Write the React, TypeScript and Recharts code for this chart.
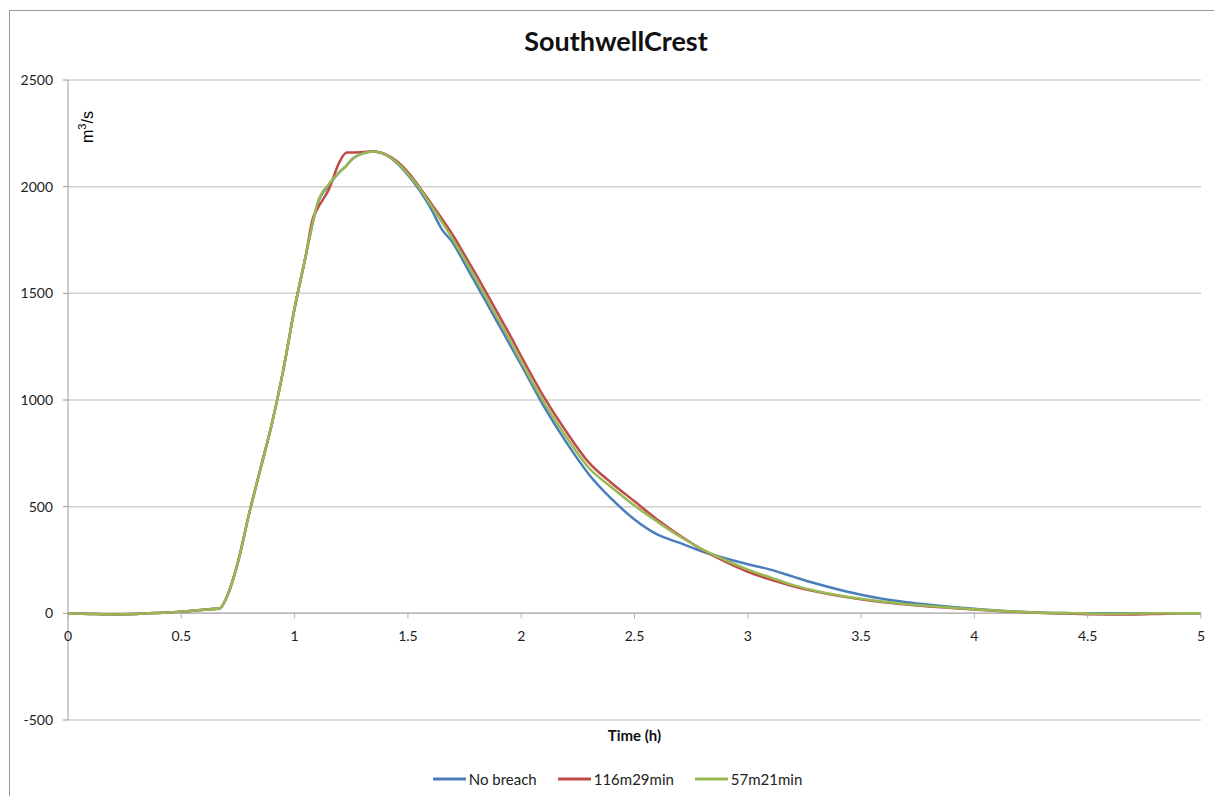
import { CartesianGrid, Legend, Line, LineChart, ReferenceLine, XAxis, YAxis } from "recharts";

const TIME = [
  0, 0.1, 0.2, 0.3, 0.4, 0.5, 0.6, 0.67, 0.7, 0.75, 0.8, 0.85, 0.9, 0.95, 1.0, 1.05, 1.08, 1.1, 1.15, 1.2,
  1.23, 1.25, 1.3, 1.35, 1.4, 1.45, 1.5, 1.55, 1.6, 1.65, 1.7, 1.75, 1.8, 1.85, 1.9, 1.95, 2.0, 2.1, 2.2,
  2.3, 2.4, 2.5, 2.6, 2.7, 2.8, 2.9, 3.0, 3.1, 3.2, 3.3, 3.4, 3.5, 3.6, 3.7, 3.8, 3.9, 4.0, 4.1, 4.2, 4.3,
  4.4, 4.5, 4.6, 4.7, 4.8, 4.9, 5.0,
];

const NO_BREACH = [
  0, -3, -5, -3, 2, 8, 17, 24, 75, 240, 470, 680, 890, 1140, 1430, 1680, 1830, 1915, 2005, 2070,
  2100, 2125, 2155, 2165, 2150, 2112, 2055, 1985, 1900, 1800, 1735, 1640, 1545, 1450, 1355, 1260, 1165, 970, 800,
  650, 535, 440, 370, 330, 290, 258, 230, 205, 172, 140, 112, 87, 67, 52, 40, 30, 21, 13, 7, 3,
  1, 0, 0, 0, 0, 0, 0,
];

const BREACH_116 = [
  0, -3, -5, -3, 2, 8, 17, 24, 75, 240, 470, 680, 890, 1140, 1430, 1680, 1850, 1895, 1985, 2120,
  2160, 2160, 2162, 2165, 2152, 2120, 2068, 2000, 1925, 1850, 1770, 1680, 1590, 1495, 1400, 1305, 1205, 1015, 850,
  705, 610, 525, 440, 365, 298, 242, 195, 158, 127, 102, 82, 66, 52, 41, 32, 25, 18, 11, 6, 2,
  -1, -4, -5, -5, -3, 0, 0,
];

const BREACH_57 = [
  0, -3, -5, -3, 2, 8, 17, 24, 75, 240, 470, 680, 890, 1140, 1430, 1680, 1830, 1920, 2010, 2070,
  2100, 2125, 2155, 2165, 2150, 2115, 2060, 1995, 1915, 1835, 1750, 1660, 1565, 1470, 1375, 1280, 1180, 990, 825,
  680, 590, 505, 430, 360, 300, 250, 205, 168, 132, 105, 85, 68, 54, 43, 34, 26, 19, 12, 7, 3,
  1, -1, -2, -1, 0, 0, 0,
];

const X_TICKS = [0, 0.5, 1, 1.5, 2, 2.5, 3, 3.5, 4, 4.5, 5];
const Y_TICKS = [-500, 0, 500, 1000, 1500, 2000, 2500];

const SERIES = [
  { key: "noBreach", name: "No breach", color: "#4a7ebb" },
  { key: "b116", name: "116m29min", color: "#be4b48" },
  { key: "b57", name: "57m21min", color: "#98b954" },
];

const data = TIME.map((t, i) => ({
  t,
  noBreach: NO_BREACH[i],
  b116: BREACH_116[i],
  b57: BREACH_57[i],
}));

const FONT = "Lato, 'Open Sans', sans-serif";
const PLOT_H = 640;
const Y_MIN = -500;
const Y_MAX = 2500;
// x axis crosses at y = 0, like the Excel original
const ZERO_SHIFT = (PLOT_H * (0 - Y_MIN)) / (Y_MAX - Y_MIN);

const XTick = (props: any) => {
  const { x, y, payload } = props;
  const y0 = y - ZERO_SHIFT;
  return (
    <g>
      <line x1={x} x2={x} y1={y0} y2={y0 + 5} stroke="#b0b0b0" strokeWidth={1} />
      <text x={x} y={y0 + 28} textAnchor="middle" fontSize={14} fill="#222" fontFamily={FONT}>
        {payload.value}
      </text>
    </g>
  );
};

const UnitLabel = (props: any) => {
  const { viewBox } = props;
  const x = viewBox.x + viewBox.width + 25;
  const y = viewBox.y + 63;
  return (
    <text
      x={x}
      y={y}
      transform={`rotate(-90, ${x}, ${y})`}
      fontSize={16}
      fill="#000"
      fontFamily="'Liberation Sans', Arial, sans-serif"
    >
      m
      <tspan dy={-7} fontSize={11}>3</tspan>
      <tspan dy={7}>/s</tspan>
    </text>
  );
};

const LegendContent = () => (
  <div
    style={{
      height: 24,
      display: "flex",
      justifyContent: "center",
      alignItems: "center",
      gap: 21,
      fontFamily: FONT,
      fontSize: 15,
      color: "#222",
      paddingLeft: 26,
    }}
  >
    {SERIES.map((s) => (
      <div key={s.key} style={{ display: "flex", alignItems: "center" }}>
        <svg width={33} height={6} style={{ marginRight: 3 }}>
          <line x1={0} x2={33} y1={3} y2={3} stroke={s.color} strokeWidth={3} />
        </svg>
        <span>{s.name}</span>
      </div>
    ))}
  </div>
);

const App = () => {
  return (
    <div style={{ position: "relative", width: 1214, height: 788, background: "#fff" }}>
      <div
        style={{
          position: "absolute",
          left: 1,
          top: 2,
          right: 0,
          bottom: 0,
          borderTop: "1.5px solid #9a9a9a",
          borderLeft: "1.5px solid #9a9a9a",
        }}
      />
      <div
        style={{
          position: "absolute",
          top: 16,
          left: 0,
          width: 1216,
          textAlign: "center",
          fontFamily: FONT,
          fontWeight: 700,
          fontSize: 27,
          color: "#111",
        }}
      >
        SouthwellCrest
      </div>
      <LineChart width={1214} height={788} data={data} margin={{ top: 72, right: 21, bottom: 5, left: 0 }}>
        <CartesianGrid vertical={false} stroke="#d0d0d0" strokeWidth={1.5} />
        <XAxis
          dataKey="t"
          type="number"
          domain={[0, 5]}
          ticks={X_TICKS}
          axisLine={false}
          tickLine={false}
          tickSize={0}
          tickMargin={0}
          height={47}
          tick={<XTick />}
          interval={0}
          label={{
            value: "Time (h)",
            position: "insideBottom",
            offset: 26,
            fontFamily: FONT,
            fontSize: 15,
            fontWeight: 700,
            fill: "#111",
          }}
        />
        <YAxis
          type="number"
          domain={[Y_MIN, Y_MAX]}
          ticks={Y_TICKS}
          width={60}
          axisLine={{ stroke: "#9a9a9a", strokeWidth: 1 }}
          tickLine={{ stroke: "#9a9a9a" }}
          tickSize={5}
          tickMargin={10}
          tick={{ fontSize: 14, fill: "#222", fontFamily: FONT }}
          interval={0}
          label={{ content: <UnitLabel /> }}
        />
        <ReferenceLine y={0} stroke="#b8b8b8" strokeWidth={1.5} />
        {SERIES.map((s) => (
          <Line
            key={s.key}
            type="monotone"
            dataKey={s.key}
            name={s.name}
            stroke={s.color}
            strokeWidth={2.5}
            dot={false}
            isAnimationActive={false}
          />
        ))}
        <Legend verticalAlign="bottom" content={<LegendContent />} />
      </LineChart>
    </div>
  );
};

export default App;
